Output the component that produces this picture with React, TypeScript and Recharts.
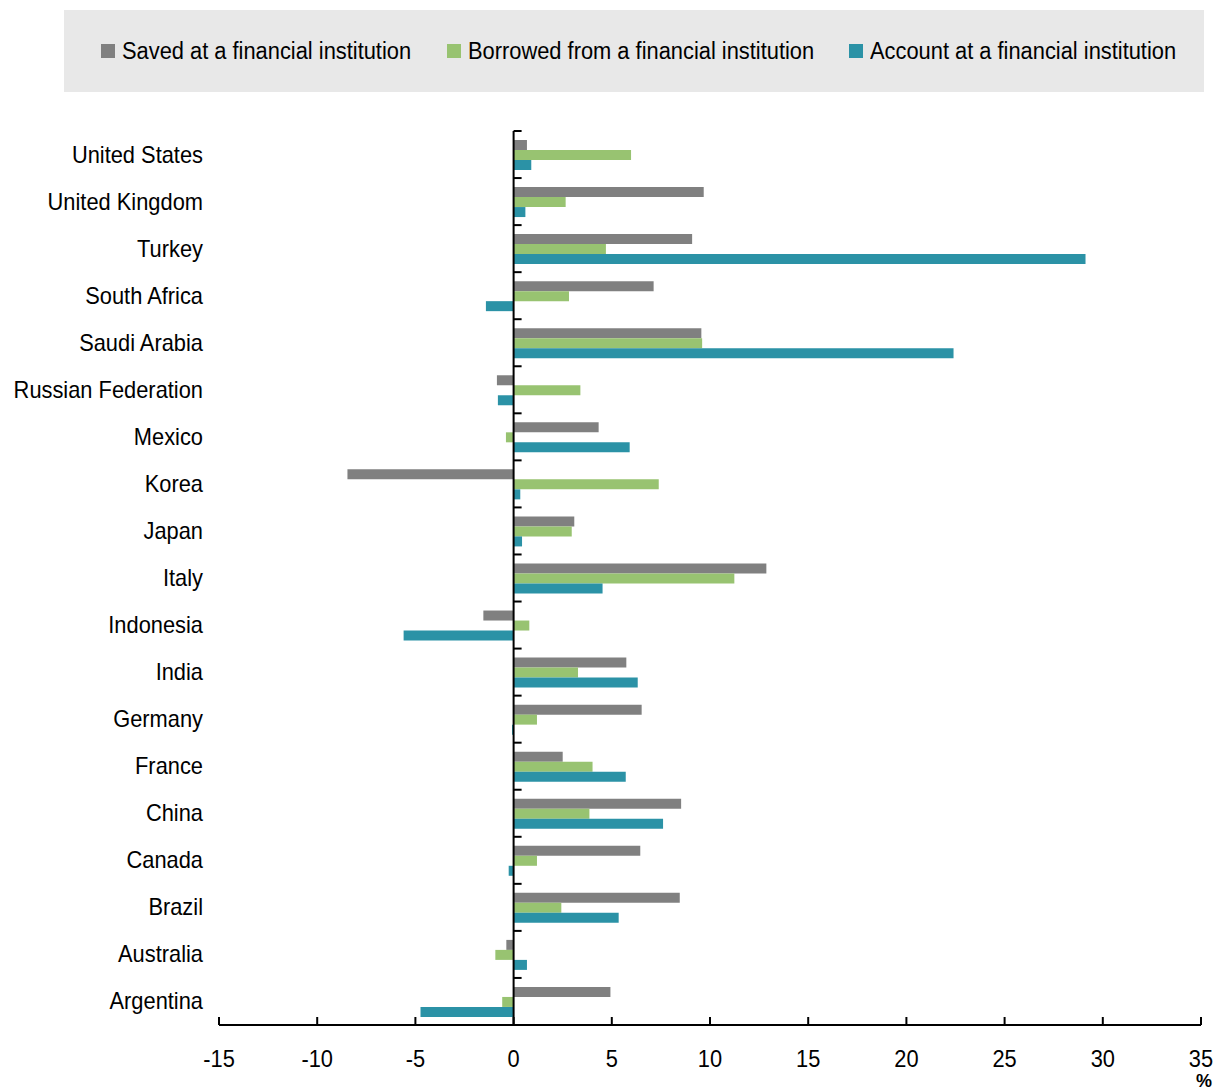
import { Bar, BarChart, ReferenceLine, XAxis, YAxis } from 'recharts';

const countries = [
  'United States',
  'United Kingdom',
  'Turkey',
  'South Africa',
  'Saudi Arabia',
  'Russian Federation',
  'Mexico',
  'Korea',
  'Japan',
  'Italy',
  'Indonesia',
  'India',
  'Germany',
  'France',
  'China',
  'Canada',
  'Brazil',
  'Australia',
  'Argentina',
];

const saved = [0.68, 9.68, 9.09, 7.13, 9.56, -0.85, 4.33, -8.46, 3.09, 12.87, -1.54, 5.74, 6.52, 2.5, 8.53, 6.45, 8.46, -0.37, 4.93];
const borrowed = [5.98, 2.65, 4.7, 2.82, 9.6, 3.4, -0.39, 7.39, 2.96, 11.24, 0.8, 3.28, 1.19, 4.02, 3.86, 1.19, 2.43, -0.93, -0.58];
const account = [0.9, 0.6, 29.12, -1.41, 22.4, -0.8, 5.91, 0.34, 0.43, 4.53, -5.6, 6.32, -0.08, 5.71, 7.61, -0.25, 5.35, 0.68, -4.74];

const xTicks = [-15, -10, -5, 0, 5, 10, 15, 20, 25, 30, 35];

const seriesNames = [
  'Saved at a financial institution',
  'Borrowed from a financial institution',
  'Account at a financial institution',
];
const colors = ['#808080', '#98C371', '#2B92A6'];
// legend item left edges
const legendX = [101, 447, 849];

const data = countries.map((country, i) => ({
  country,
  saved: saved[i],
  borrowed: borrowed[i],
  account: account[i],
}));

const W = 1225;
const H = 1091;
const PLOT_LEFT = 219;
const PLOT_RIGHT = 1201;
const PLOT_TOP = 131;
const PLOT_BOTTOM = 1025;
const X_MIN = -15;
const X_MAX = 35;
const ZERO_X = PLOT_LEFT + ((0 - X_MIN) / (X_MAX - X_MIN)) * (PLOT_RIGHT - PLOT_LEFT);

const FONT = '"Liberation Sans", Arial, sans-serif';
const NARROW = 0.95;

function CountryTick(props: any) {
  const { x, y, payload } = props;
  const half = payload.offset ?? (PLOT_BOTTOM - PLOT_TOP) / countries.length / 2;
  return (
    <g>
      <text
        transform={`translate(${x},${y + 8}) scale(${NARROW},1)`}
        textAnchor="end"
        fontSize={23}
        fill="#000"
        fontFamily={FONT}
      >
        {payload.value}
      </text>
      <line x1={ZERO_X} x2={ZERO_X + 8} y1={y - half} y2={y - half} stroke="#000" strokeWidth={2} />
    </g>
  );
}

function ValueTick(props: any) {
  const { x, y, payload } = props;
  return (
    <g>
      <line x1={x} x2={x} y1={y - 8} y2={y} stroke="#000" strokeWidth={2} />
      <text
        transform={`translate(${x},${y + 42}) scale(${NARROW},1)`}
        textAnchor="middle"
        fontSize={23}
        fill="#000"
        fontFamily={FONT}
      >
        {payload.value}
      </text>
    </g>
  );
}

function LegendBox() {
  return (
    <div
      style={{
        position: 'absolute',
        left: 64,
        top: 10,
        width: 1140,
        height: 82,
        background: '#E8E8E8',
      }}
    >
      {seriesNames.map((name, i) => (
        <div key={name}>
          <span
            style={{
              position: 'absolute',
              left: legendX[i] - 64,
              top: 34,
              width: 14,
              height: 14,
              background: colors[i],
            }}
          />
          <span
            style={{
              position: 'absolute',
              left: legendX[i] - 64 + 21,
              top: 28,
              whiteSpace: 'nowrap',
              fontFamily: FONT,
              fontSize: 23,
              lineHeight: '27px',
              color: '#000',
              transform: `scaleX(${NARROW})`,
              transformOrigin: 'left center',
            }}
          >
            {name}
          </span>
        </div>
      ))}
    </div>
  );
}

function App() {
  return (
    <div style={{ position: 'absolute', left: 0, top: 0, width: W, height: H, background: '#fff', fontFamily: FONT }}>
      <LegendBox />
      <div style={{ position: 'absolute', left: 0, top: 0 }}>
        <BarChart
          width={W}
          height={H}
          data={data}
          layout="vertical"
          barSize={10}
          barGap={0}
          margin={{ top: PLOT_TOP, bottom: 0, left: 0, right: W - PLOT_RIGHT }}
        >
          <XAxis
            type="number"
            domain={[X_MIN, X_MAX]}
            ticks={xTicks}
            interval={0}
            axisLine={{ stroke: '#000', strokeWidth: 2 }}
            tickLine={false}
            tickSize={0}
            tickMargin={0}
            tick={<ValueTick />}
            height={H - PLOT_BOTTOM}
            allowDataOverflow
          />
          <YAxis
            type="category"
            dataKey="country"
            width={PLOT_LEFT}
            axisLine={false}
            tickLine={false}
            tickSize={0}
            tickMargin={16}
            interval={0}
            tick={<CountryTick />}
          />
          <Bar dataKey="saved" name={seriesNames[0]} fill={colors[0]} isAnimationActive={false} />
          <Bar dataKey="borrowed" name={seriesNames[1]} fill={colors[1]} isAnimationActive={false} />
          <Bar dataKey="account" name={seriesNames[2]} fill={colors[2]} isAnimationActive={false} />
          <ReferenceLine x={0} stroke="#000" strokeWidth={2} />
        </BarChart>
      </div>
      <div
        style={{
          position: 'absolute',
          left: 1196,
          top: 1072,
          fontSize: 18,
          lineHeight: '18px',
          fontWeight: 'bold',
          fontFamily: FONT,
        }}
      >
        %
      </div>
    </div>
  );
}

export default App;
